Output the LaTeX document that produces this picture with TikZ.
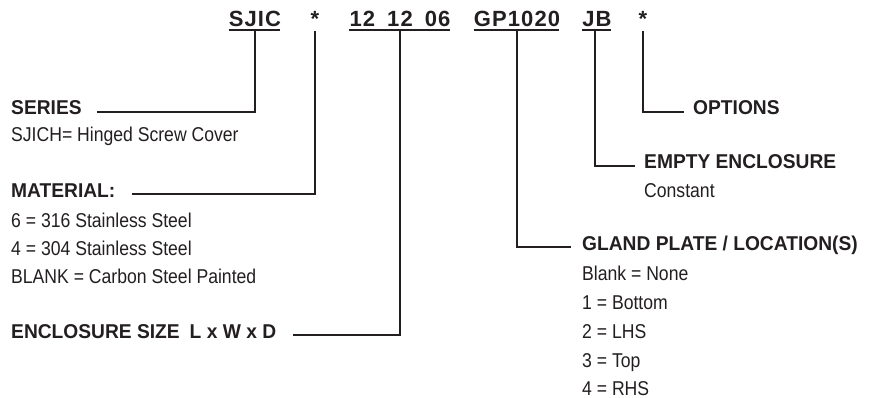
\documentclass[tikz,border=0pt]{standalone}
\usepackage{fontspec}
\setmainfont{Liberation Sans}
\newfontfamily\codefont[LetterSpace=5]{Liberation Sans}
\newfontfamily\bodyfont[FakeStretch=0.88]{Liberation Sans}
\newfontfamily\headfont[FakeStretch=0.96]{Liberation Sans}
\definecolor{ink}{RGB}{35,31,32}
\tikzset{
  lead/.style={draw=ink,line width=2pt},
  rule/.style={draw=ink,line width=1.3pt},
}

\begin{document}
\begin{tikzpicture}[x=1pt,y=-1pt]
  \useasboundingbox (0,0) rectangle (875,398);

  \begin{scope}[every node/.style={anchor=base,inner sep=0pt,text=ink,font=\codefont\bfseries\fontsize{22}{26}\selectfont}]
    \node (sjic)  at (255,27) {SJIC};
    \node (star1) at (315,27) {*};
    \node (size)  at (400,27) {12\hspace{12pt}12\hspace{12pt}06};
    \node (gp)    at (517,27) {GP1020};
    \node (jb)    at (597,27) {JB};
    \node (star2) at (643,27) {*};
  \end{scope}

  \foreach \c in {sjic,size,gp,jb}
    \draw[rule] ([yshift=-3pt]\c.base west) -- ([xshift=-1pt,yshift=-3pt]\c.base east);

  \begin{scope}[every node/.style={anchor=base west,inner sep=0pt,text=ink,font=\headfont\bfseries\fontsize{20}{24}\selectfont}]
    \node (series)    at (11,115)  {SERIES};
    \node (material)  at (11,197)  {MATERIAL:};
    \node (enclosure) at (11,338)  {ENCLOSURE SIZE\hspace{10pt}L x W x D};
    \node (options)   at (693,115) {OPTIONS};
    \node (empty)     at (644,169) {EMPTY ENCLOSURE};
    \node (gland)     at (582,250) {GLAND PLATE / LOCATION(S)};
  \end{scope}

  \begin{scope}[every node/.style={anchor=base west,inner sep=0pt,text=ink,font=\bodyfont\fontsize{20}{24}\selectfont}]
    \node (seriesA)   at (11,142)  {SJICH= Hinged Screw Cover};
    \node (matA)      at (11,227)  {6 = 316 Stainless Steel};
    \node (matB)      at (11,255)  {4 = 304 Stainless Steel};
    \node (matC)      at (11,283)  {BLANK = Carbon Steel Painted};
    \node (emptyA)    at (644,197) {Constant};
    \node (glandA)    at (582,280) {Blank = None};
    \node (glandB)    at (582,309) {1 = Bottom};
    \node (glandC)    at (582,338) {2 = LHS};
    \node (glandD)    at (582,367) {3 = Top};
    \node (glandE)    at (582,395) {4 = RHS};
  \end{scope}

  \draw[lead] ([xshift=15pt]series.mid east) -| ([yshift=-4pt]sjic.base);
  \draw[lead] ([xshift=16pt]material.mid east) -| ([yshift=-4pt]star1.base);
  \draw[lead] ([xshift=17pt]enclosure.mid east) -| ([yshift=-4pt]size.base);
  \draw[lead] ([yshift=-4pt]gp.base) |- ([xshift=-11pt]gland.mid west);
  \draw[lead] ([yshift=-4pt,xshift=-2pt]jb.base) |- ([xshift=-9pt]empty.mid west);
  \draw[lead] ([yshift=-4pt]star2.base) |- ([xshift=-9pt]options.mid west);

\end{tikzpicture}
\end{document}
